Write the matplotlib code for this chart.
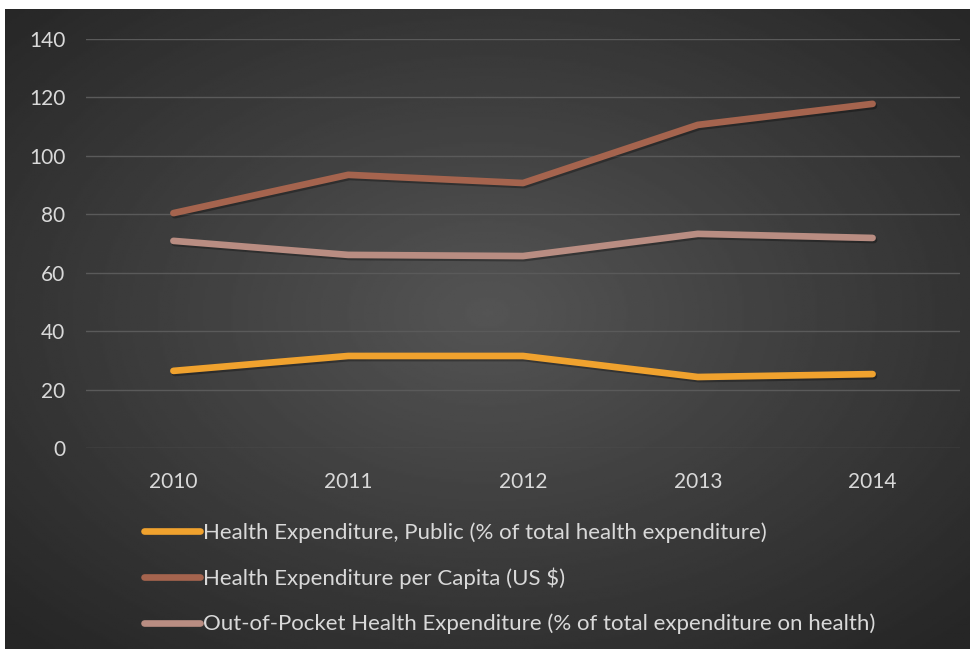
import numpy as np
import matplotlib
matplotlib.use("Agg")
import matplotlib.pyplot as plt
import matplotlib.patheffects as pe

years = ['2010', '2011', '2012', '2013', '2014']
public = [26.4, 31.5, 31.5, 24.3, 25.3]
per_capita = [80.4, 93.5, 90.7, 110.6, 117.8]
out_of_pocket = [70.9, 66.1, 65.7, 73.3, 71.9]

labels = ['Health Expenditure, Public (% of total health expenditure)',
          'Health Expenditure per Capita (US $)',
          'Out-of-Pocket Health Expenditure (% of total expenditure on health)']
colors = ['#F0A22E', '#A5644E', '#B98D82']

plt.rcParams['font.family'] = ['Lato', 'DejaVu Sans']

fig = plt.figure(figsize=(9.78, 6.51), dpi=100)
fig.patch.set_facecolor('white')

# radial gradient background, lighter in the middle
bg = fig.add_axes([5/978, 1-649/651, 965/978, 640/651])
yy, xx = np.mgrid[-1:1:300j, -1:1:450j]
r = np.clip(np.sqrt(xx**2 + (yy + 0.05)**2) / 1.4, 0, 1)
shade = 0.33 - 0.18 * r
bg.imshow(shade, cmap='gray', vmin=0, vmax=1, aspect='auto', extent=[0, 1, 0, 1])
bg.axis('off')

ax = fig.add_axes([86/978, 1-448/651, 874/978, 409/651])
ax.patch.set_alpha(0)
x = np.arange(len(years))
for vals, c, lab in zip([public, per_capita, out_of_pocket], colors, labels):
    ax.plot(x, vals, color=c, lw=4.8, solid_capstyle='round', solid_joinstyle='round', label=lab,
            path_effects=[pe.SimpleLineShadow(offset=(1, -1.5), shadow_color='black', alpha=0.3), pe.Normal()])

ax.set_xlim(-0.5, 4.5)
ax.set_ylim(0, 140)
ax.set_yticks(range(0, 141, 20))
ax.set_xticks(x)
ax.set_xticklabels(years)
ax.grid(axis='y', color='#5a5a5a', lw=1)
ax.set_axisbelow(True)
for s in ax.spines.values():
    s.set_visible(False)
ax.tick_params(length=0, colors='#D9D9D9', labelsize=15)
ax.tick_params(axis='y', pad=15)
ax.tick_params(axis='x', pad=17)

leg = fig.legend(loc='upper left', bbox_to_anchor=(124/978, 1-502/651), frameon=False,
                 fontsize=16, handlelength=2.5, handletextpad=0.15, labelspacing=1.12,
                 labelcolor='#D9D9D9')
for h in leg.get_lines():
    h.set_linewidth(4.8)
    h.set_path_effects([])

fig.savefig('out.png', dpi=100, facecolor='white')
